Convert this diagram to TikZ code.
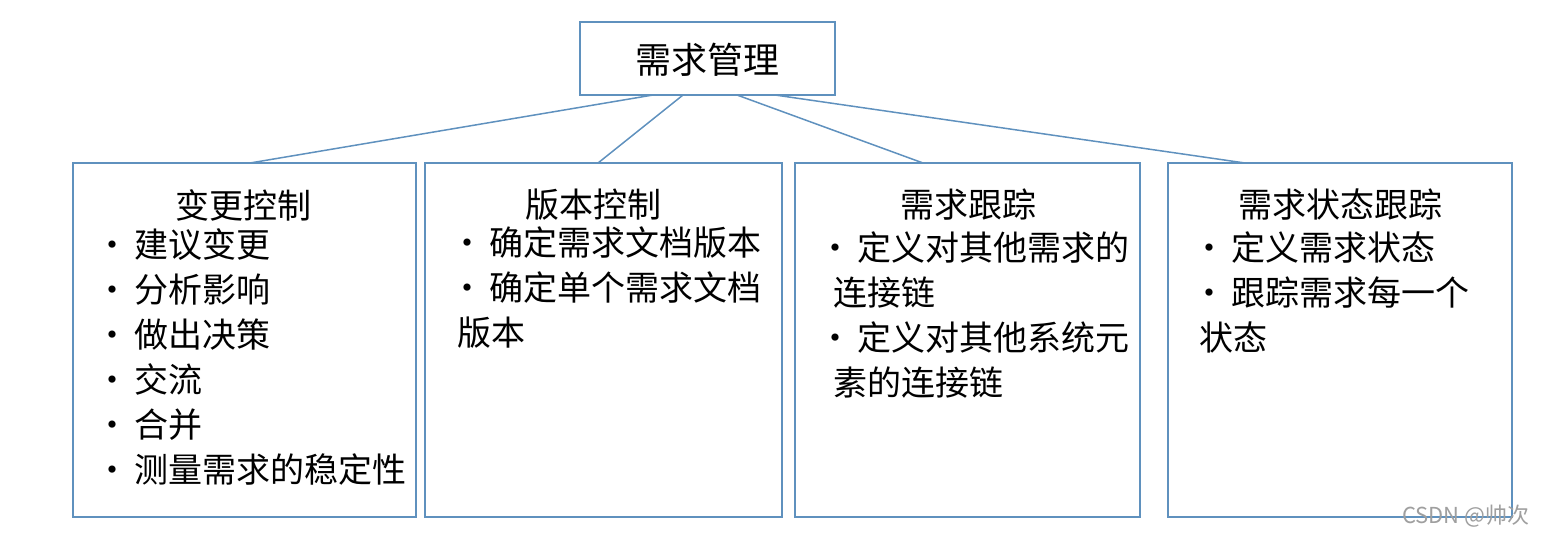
\documentclass[tikz,border=0pt]{standalone}
\usepackage{fontspec}
\setmainfont{Noto Sans CJK SC}
\definecolor{lineblue}{RGB}{95,145,190}
\begin{document}
\begin{tikzpicture}[x=1pt,y=-1pt,
  bx/.style={draw=lineblue,line width=1.3pt},
  ln/.style={draw=lineblue,line width=1.5pt},
  txt/.style={font=\fontsize{34}{45}\selectfont,align=left,anchor=north west,inner sep=0pt},
  ttl/.style={font=\fontsize{34}{40}\selectfont,inner sep=0pt}]
\useasboundingbox (0,0) rectangle (1544,542);
\draw[bx] (580,22) rectangle (835,95);
\node[font=\fontsize{36}{40}\selectfont] (root) at (707,60) {需求管理};
\draw[bx] (73,163) rectangle (416,517);
\draw[bx] (425,163) rectangle (782,517);
\draw[bx] (795,163) rectangle (1140,517);
\draw[bx] (1168,163) rectangle (1512,517);
\coordinate (r1) at (653,95); \coordinate (r2) at (683,95);
\coordinate (r3) at (737,95); \coordinate (r4) at (775,95);
\coordinate (b1) at (250,163); \coordinate (b2) at (598,163);
\coordinate (b3) at (923,163); \coordinate (b4) at (1245,163);
\draw[ln] (r1)--(b1); \draw[ln] (r2)--(b2); \draw[ln] (r3)--(b3); \draw[ln] (r4)--(b4);
\node[ttl] (t1) at (243,205) {变更控制};
\node[ttl] (t2) at (593,205) {版本控制};
\node[ttl] (t3) at (968,205) {需求跟踪};
\node[ttl] (t4) at (1340,205) {需求状态跟踪};
\node[txt] (c1) at (95,228) {·\,建议变更\\·\,分析影响\\·\,做出决策\\•\,交流\\•\,合并\\·\,测量需求的稳定性};
\node[txt] (c2) at (450,226) {·\,确定需求文档版本\\·\,确定单个需求文档\\\ 版本};
\node[txt] (c3) at (818,231) {·\,定义对其他需求的\\\ \ 连接链\\·\,定义对其他系统元\\\ \ 素的连接链};
\node[txt] (c4) at (1192,231) {·\,定义需求状态\\·\,跟踪需求每一个\\\ 状态};
\node[font=\fontsize{22}{24}\selectfont,text=gray!75,anchor=east] (wm) at (1533,516) {CSDN @帅次};
\end{tikzpicture}
\end{document}
